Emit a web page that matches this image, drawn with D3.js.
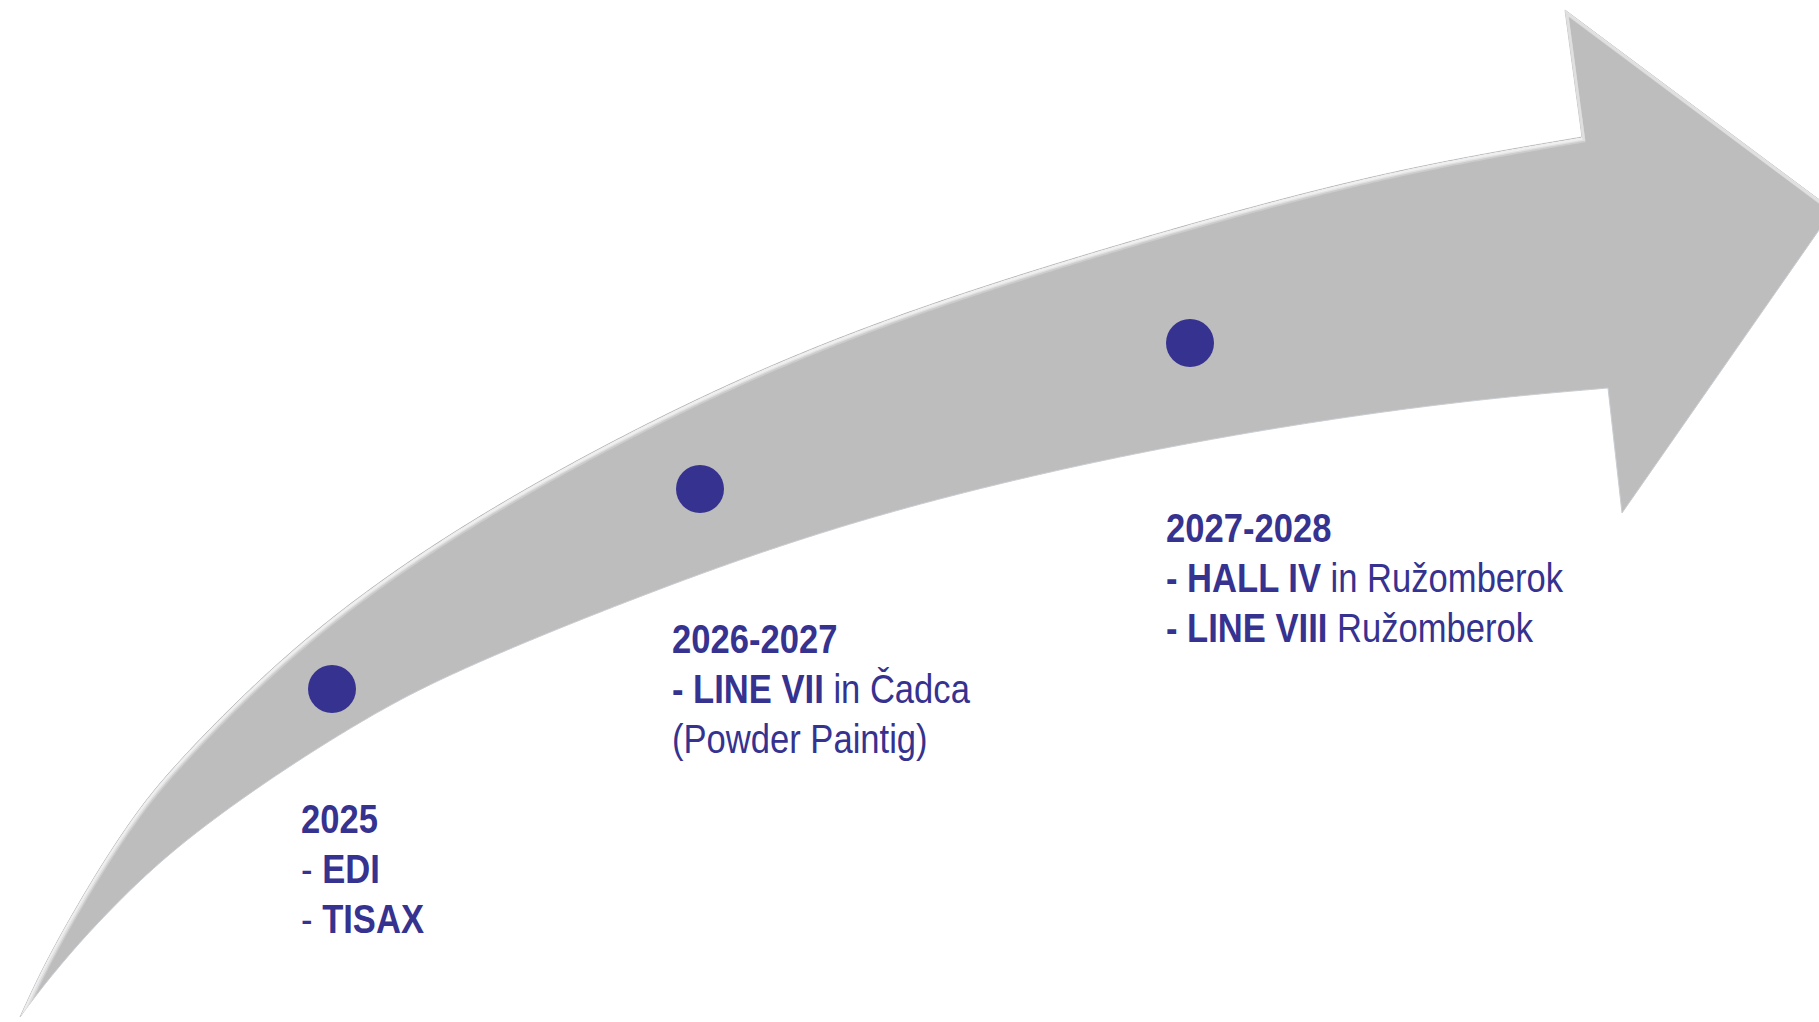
<!DOCTYPE html>
<html>
<head>
<meta charset="utf-8">
<script src="https://cdn.jsdelivr.net/npm/d3@7"></script>
<style>
  html, body { margin: 0; padding: 0; background: #ffffff; overflow: hidden; }
  svg { display: block; }
  text { font-family: "Liberation Sans Narrow", "Arial Narrow", "Liberation Sans", Arial, sans-serif; }
</style>
</head>
<body>
<svg id="chart"></svg>
<script>
// ---------- data ----------
// upper edge of the arrow shaft (tail -> shoulder), reference units
const upperEdge = [[20,1017],[40,973],[67,923],[100,867],[133,817],[167,773],[250,687],[350,600],[500,500],[722,383],[933,300],[1200,220],[1400,168],[1582,137]];
// arrow head outline: shoulder -> top barb -> tip -> bottom barb -> lower shoulder
const headOutline = [[1582,137],[1565,10],[1833,210],[1622,513],[1608,388]];
// lower edge of the arrow shaft (tail -> lower shoulder)
const lowerEdge = [[20,1017],[40,990],[67,957],[100,920],[167,853],[267,780],[367,717],[450,673],[627,600],[856,517],[1150,447],[1433,403],[1608,388]];

const milestoneYears = ["2025", "2026-2027", "2027-2028"];
const milestoneDotX = [332, 700, 1190];
const milestoneDotY = [689, 489, 343];
const milestoneTextX = [301, 672, 1166];
const milestoneTextY = [833, 653, 542];
// each item line: array of [text, bold]
const milestoneItems = [
  [ [["- ", false], ["EDI", true]],
    [["- ", false], ["TISAX", true]] ],
  [ [["- LINE VII", true], [" in Čadca", false]],
    [["(Powder Paintig)", false]] ],
  [ [["- HALL IV", true], [" in Ružomberok", false]],
    [["- LINE VIII", true], [" Ružomberok", false]] ]
];

// ---------- layout ----------
const W = 1819, H = 1022;
const x = d3.scaleLinear().domain([0, 1819]).range([0, W]);
const y = d3.scaleLinear().domain([0, 1022]).range([0, H]);
const lineH = 50;
const fontSize = 40;
const narrow = 0.865;
const ink = "#36328f";

const svg = d3.select("#chart").attr("width", W).attr("height", H);
const defs = svg.append("defs");

const smooth = d3.line().x(d => x(d[0])).y(d => y(d[1])).curve(d3.curveBasis);

// sample a smooth curve into pixel points
function sampleCurve(pts) {
  const p = svg.append("path").attr("d", smooth(pts)).attr("fill", "none");
  const node = p.node(), len = node.getTotalLength(), n = 500, out = [];
  for (let k = 0; k <= n; k++) { const q = node.getPointAtLength(len * k / n); out.push([q.x, q.y]); }
  p.remove();
  return out;
}
const upperPx = sampleCurve(upperEdge);
const lowerPx = sampleCurve(lowerEdge).reverse();
const headPx = headOutline.map(d => [x(d[0]), y(d[1])]);
const outline = upperPx.concat(headPx.slice(1, -1), lowerPx);
const pxLine = d3.line();
const fullD = pxLine(outline) + "Z";

defs.append("clipPath").attr("id", "arrowClip").append("path").attr("d", fullD);

const g = svg.append("g");
// base shape
g.append("path").attr("d", fullD).attr("fill", "#bdbdbd").attr("stroke", "none");
// soft outer edge
g.append("path").attr("d", fullD).attr("fill", "none").attr("stroke", "#c9cdd2").attr("stroke-width", 1);

// bevel highlight on the upper edges
const topEdgeD = pxLine(upperPx.concat(headPx.slice(0, 3)));
const bev = g.append("g").attr("clip-path", "url(#arrowClip)");
bev.append("path").attr("d", topEdgeD).attr("fill", "none").attr("stroke", "#a6a6a6").attr("stroke-width", 2);
bev.append("path").attr("d", topEdgeD).attr("fill", "none").attr("stroke", "#f4f4f4").attr("stroke-width", 4)
   .attr("transform", "translate(1,2)").attr("opacity", 0.9);
bev.append("path").attr("d", topEdgeD).attr("fill", "none").attr("stroke", "#d6d6d6").attr("stroke-width", 3)
   .attr("transform", "translate(2,4)").attr("opacity", 0.6);

// dots
svg.selectAll("circle.dot").data(milestoneYears).join("circle")
  .attr("class", "dot")
  .attr("cx", (d, i) => x(milestoneDotX[i]))
  .attr("cy", (d, i) => y(milestoneDotY[i]))
  .attr("r", 24)
  .attr("fill", ink);

// text blocks (condensed horizontally to mimic a narrow face)
milestoneYears.forEach((yr, i) => {
  const block = svg.append("g")
    .attr("transform", `translate(${x(milestoneTextX[i])},${y(milestoneTextY[i])}) scale(${narrow},1)`);
  block.append("text")
    .attr("x", 0).attr("y", 0)
    .attr("font-size", fontSize).attr("font-weight", "bold").attr("fill", ink)
    .text(yr);
  milestoneItems[i].forEach((line, j) => {
    const t = block.append("text")
      .attr("x", 0).attr("y", (j + 1) * lineH)
      .attr("font-size", fontSize).attr("fill", ink)
      .attr("xml:space", "preserve");
    line.forEach(seg => {
      t.append("tspan").attr("font-weight", seg[1] ? "bold" : "normal").text(seg[0]);
    });
  });
});
</script>
</body>
</html>
